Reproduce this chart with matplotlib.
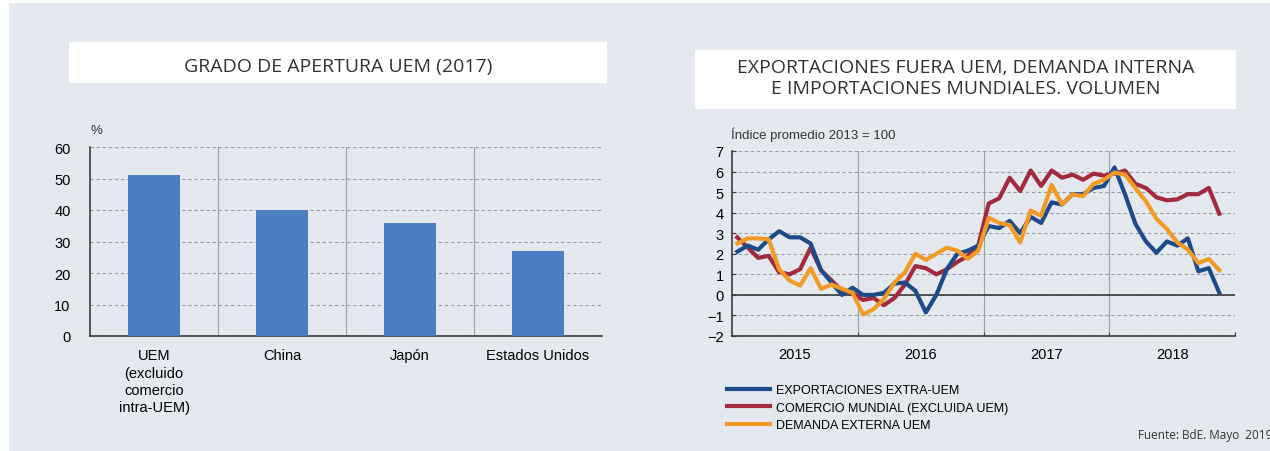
import numpy as np
import matplotlib
matplotlib.use("Agg")
import matplotlib.pyplot as plt
from matplotlib.patches import Rectangle

# ---- data: bar chart ----
paises = ["UEM\n(excluido\ncomercio\nintra-UEM)", "China", "Japón", "Estados Unidos"]
apertura = [51, 40, 36, 27]

# ---- data: monthly series, Jan 2015 .. Nov 2018 ----
exportaciones = [2.1, 2.4, 2.2, 2.7, 3.1, 2.8, 2.8, 2.5, 1.2, 0.6, 0.0, 0.35,
                 0.0, 0.0, 0.1, 0.55, 0.6, 0.2, -0.85, 0.0, 1.25, 2.0, 2.15, 2.4,
                 3.35, 3.25, 3.6, 3.0, 3.8, 3.5, 4.5, 4.4, 4.9, 4.9, 5.2, 5.3,
                 6.2, 4.9, 3.45, 2.6, 2.05, 2.6, 2.4, 2.75, 1.15, 1.3, 0.1]
comercio = [2.8, 2.3, 1.8, 1.9, 1.1, 1.0, 1.25, 2.3, 1.2, 0.7, 0.2, 0.1,
            -0.25, -0.15, -0.5, -0.15, 0.5, 1.4, 1.3, 1.0, 1.25, 1.6, 1.9, 2.4,
            4.45, 4.7, 5.7, 5.05, 6.05, 5.3, 6.05, 5.7, 5.85, 5.6, 5.9, 5.8,
            5.9, 6.05, 5.4, 5.2, 4.75, 4.6, 4.65, 4.9, 4.9, 5.2, 3.95]
demanda = [2.5, 2.75, 2.75, 2.7, 1.25, 0.7, 0.45, 1.3, 0.3, 0.5, 0.3, 0.1,
           -0.95, -0.7, -0.2, 0.6, 1.1, 2.0, 1.7, 2.0, 2.3, 2.15, 1.75, 2.15,
           3.75, 3.5, 3.4, 2.55, 4.1, 3.85, 5.35, 4.4, 4.9, 4.8, 5.4, 5.6,
           5.95, 5.85, 5.2, 4.55, 3.7, 3.2, 2.55, 2.2, 1.55, 1.75, 1.2]
anios = ["2015", "2016", "2017", "2018"]

W, H = 1270, 452
bg = "#e4e9f0"
grid_c = "#9a9ea6"
axis_c = "#3a3a3a"
tick_font = "Liberation Sans"
title_font = "Open Sans"

fig = plt.figure(figsize=(W / 100, H / 100), dpi=100)
fig.patch.set_facecolor("white")


def box(x0, y0, x1, y1, color):
    # rectangle given in pixel coords from the top-left corner
    fig.patches.append(Rectangle((x0 / W, 1 - y1 / H), (x1 - x0) / W, (y1 - y0) / H,
                                 transform=fig.transFigure, facecolor=color,
                                 edgecolor="none", zorder=-10))


box(9, 4, W, H, bg)
box(69, 43, 607, 84, "white")
box(695, 51, 1236, 110, "white")

fig.text(338 / W, 1 - 67 / H, "GRADO DE APERTURA UEM (2017)", ha="center", va="center",
         fontsize=14, family=title_font, color="#333333")
fig.text(966 / W, 1 - 78.5 / H, "EXPORTACIONES FUERA UEM, DEMANDA INTERNA\nE IMPORTACIONES MUNDIALES. VOLUMEN",
         ha="center", va="center", fontsize=14, family=title_font, color="#333333",
         linespacing=1.15)

# ---- left: bars ----
ax1 = fig.add_axes([90 / W, 1 - 337 / H, 512 / W, 189 / H])
ax1.set_facecolor(bg)
x = np.arange(len(paises))
ax1.bar(x, apertura, width=0.4, color="#4a7fc1", zorder=3)
ax1.set_xlim(-0.5, len(paises) - 0.5)
ax1.set_ylim(0, 60)
ax1.set_yticks(range(0, 61, 10))
ax1.set_xticks(x)
ax1.set_xticklabels(paises, fontsize=10.5, family=tick_font, linespacing=1.3)
ax1.set_xticks(np.arange(0.5, len(paises) - 0.5, 1), minor=True)
ax1.grid(axis="y", color=grid_c, linestyle=(0, (3, 2.5)), linewidth=0.8, zorder=0)
ax1.grid(axis="x", which="minor", color=grid_c, linestyle="-", linewidth=0.8, zorder=0)
ax1.tick_params(axis="x", which="both", length=0, pad=9)
ax1.tick_params(axis="y", length=0, pad=14, labelsize=10.5)
for lab in ax1.get_yticklabels():
    lab.set_family(tick_font)
for s in ["top", "right"]:
    ax1.spines[s].set_visible(False)
for s in ["left", "bottom"]:
    ax1.spines[s].set_color(axis_c)
    ax1.spines[s].set_linewidth(1.2)
fig.text(96 / W, 1 - 131 / H, "%", ha="center", va="center", fontsize=9.5,
         family=tick_font, color="#333333")

# ---- right: lines ----
ax2 = fig.add_axes([732 / W, 1 - 337 / H, 503 / W, 185 / H])
ax2.set_facecolor(bg)
meses = 2015 + (np.arange(len(exportaciones)) + 0.5) / 12
ax2.plot(meses, exportaciones, color="#1d4a8a", lw=3, zorder=4, label="EXPORTACIONES EXTRA-UEM")
ax2.plot(meses, comercio, color="#a3293f", lw=3, zorder=3, label="COMERCIO MUNDIAL (EXCLUIDA UEM)")
ax2.plot(meses, demanda, color="#f39a25", lw=3, zorder=5, label="DEMANDA EXTERNA UEM")
ax2.set_xlim(2015, 2019)
ax2.set_ylim(-2, 7)
ax2.set_yticks(range(-2, 8))
ax2.set_xticks([2016, 2017, 2018, 2019])
ax2.set_xticklabels([])
ax2.set_xticks([2015.5, 2016.5, 2017.5, 2018.5], minor=True)
ax2.set_xticklabels(anios, minor=True, fontsize=10.5, family=tick_font)
ax2.tick_params(axis="x", which="minor", length=0, pad=8)
ax2.tick_params(axis="x", which="major", length=3, direction="in", color=axis_c)
ax2.tick_params(axis="y", length=3, direction="in", pad=6, labelsize=10.5, color=axis_c)
for lab in ax2.get_yticklabels():
    lab.set_family(tick_font)
ax2.grid(axis="y", color=grid_c, linestyle=(0, (3, 2.5)), linewidth=0.8, zorder=0)
ax2.grid(axis="x", which="major", color=grid_c, linestyle="-", linewidth=0.8, zorder=0)
ax2.axhline(0, color=axis_c, lw=1.2, zorder=2)
for s in ["top", "right"]:
    ax2.spines[s].set_visible(False)
for s in ["left", "bottom"]:
    ax2.spines[s].set_color(axis_c)
    ax2.spines[s].set_linewidth(1.2)
fig.text(731 / W, 1 - 135 / H, "Índice promedio 2013 = 100", ha="left", va="center",
         fontsize=9.5, family=tick_font, color="#333333")

fig.legend(loc="upper left", bbox_to_anchor=(722 / W, 1 - 380 / H), frameon=False,
           prop={"family": tick_font, "size": 9}, handlelength=3.4,
           labelspacing=0.45, handletextpad=0.5, borderaxespad=0)

fig.text(1138 / W, 1 - 436 / H, "Fuente: BdE. Mayo  2019", ha="left", va="center",
         fontsize=8.5, family=title_font, color="#333333")

fig.savefig("out.png", dpi=100, facecolor=fig.get_facecolor())
